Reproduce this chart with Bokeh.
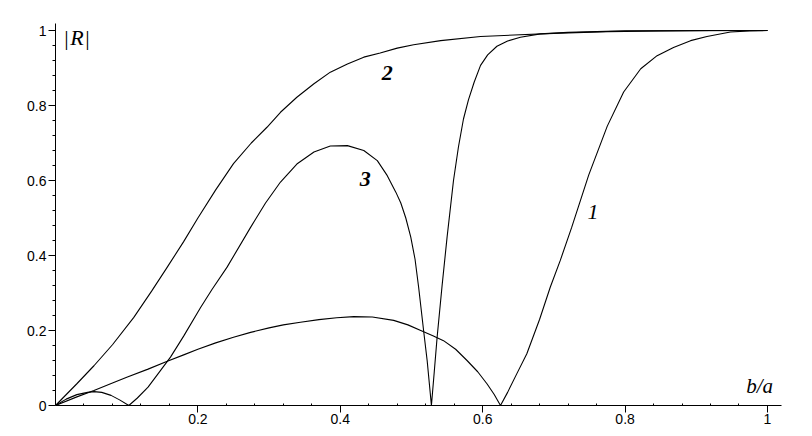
from bokeh.plotting import figure
from bokeh.models import Range1d, FixedTicker, PrintfTickFormatter, Label
from bokeh.embed import file_html
from bokeh.resources import INLINE

# curve 1
x1 = [0, 0.03, 0.054, 0.08, 0.101, 0.13, 0.157, 0.18, 0.2, 0.225, 0.25, 0.274, 0.3, 0.32, 0.344,
      0.37, 0.395, 0.419, 0.445, 0.475, 0.495, 0.513, 0.53, 0.545, 0.562, 0.578, 0.593, 0.606,
      0.616, 0.625, 0.635, 0.648, 0.662, 0.68, 0.695, 0.709, 0.725, 0.749, 0.775, 0.798, 0.822,
      0.845, 0.868, 0.892, 0.915, 0.948, 0.975, 1.0]
y1 = [0, 0.023, 0.04, 0.06, 0.076, 0.097, 0.118, 0.135, 0.15, 0.167, 0.182, 0.195, 0.207, 0.215, 0.222,
      0.229, 0.234, 0.237, 0.236, 0.227, 0.215, 0.2, 0.186, 0.173, 0.15, 0.12, 0.09, 0.058,
      0.03, 0.0, 0.035, 0.085, 0.138, 0.23, 0.316, 0.387, 0.475, 0.615, 0.745, 0.836, 0.898,
      0.933, 0.955, 0.973, 0.984, 0.996, 0.999, 1.0]

# curve 2
x2 = [0, 0.03, 0.054, 0.08, 0.11, 0.135, 0.157, 0.18, 0.2, 0.225, 0.25, 0.275, 0.297, 0.316, 0.339,
      0.363, 0.386, 0.41, 0.433, 0.456, 0.48, 0.503, 0.541, 0.597, 0.644, 0.709, 0.775, 0.85,
      0.92, 1.0]
y2 = [0, 0.058, 0.106, 0.162, 0.235, 0.305, 0.369, 0.437, 0.5, 0.575, 0.645, 0.70, 0.742, 0.782, 0.822,
      0.858, 0.889, 0.911, 0.929, 0.94, 0.953, 0.962, 0.973, 0.984, 0.988, 0.993, 0.997, 0.999,
      1.0, 1.0]

# curve 3
x3 = [0, 0.015, 0.03, 0.045, 0.054, 0.065, 0.078, 0.09, 0.103, 0.115, 0.13, 0.145, 0.1615, 0.18,
      0.204, 0.22, 0.241, 0.274, 0.295, 0.316, 0.339, 0.363, 0.386, 0.41, 0.433, 0.452, 0.466,
      0.478, 0.485, 0.492, 0.499, 0.505, 0.51, 0.517, 0.522, 0.528, 0.532, 0.536, 0.543, 0.55,
      0.559, 0.566, 0.573, 0.58, 0.588, 0.597, 0.607, 0.62, 0.635, 0.653, 0.681, 0.72, 0.8, 1.0]
y3 = [0, 0.017, 0.029, 0.035, 0.037, 0.035, 0.027, 0.015, 0.0, 0.02, 0.049, 0.087, 0.129, 0.185,
      0.262, 0.31, 0.369, 0.475, 0.54, 0.596, 0.644, 0.676, 0.692, 0.693, 0.68, 0.653, 0.613,
      0.569, 0.54, 0.50, 0.449, 0.39, 0.316, 0.2, 0.12, 0.0, 0.09, 0.182, 0.32, 0.449,
      0.6, 0.69, 0.764, 0.815, 0.862, 0.907, 0.935, 0.958, 0.972, 0.982, 0.991, 0.995, 0.999, 1.0]

x_ticks = [0.2, 0.4, 0.6, 0.8, 1.0]
y_ticks = [0, 0.2, 0.4, 0.6, 0.8, 1.0]
minor = [0.04, 0.08, 0.12, 0.16, 0.24, 0.28, 0.32, 0.36, 0.44, 0.48, 0.52, 0.56,
         0.64, 0.68, 0.72, 0.76, 0.84, 0.88, 0.92, 0.96]

p = figure(width=812, height=436, output_backend="svg", toolbar_location=None,
           x_range=Range1d(0, 1.0197), y_range=Range1d(0, 1.0187),
           min_border_left=55, min_border_top=23, min_border_right=31, min_border_bottom=31,
           background_fill_color="white", border_fill_color="white")
p.outline_line_color = None
p.grid.visible = False

for xs, ys in ((x1, y1), (x2, y2), (x3, y3)):
    p.line(xs, ys, line_color="black", line_width=1.1)

tick_font = "Liberation Sans"
p.xaxis.ticker = FixedTicker(ticks=x_ticks, minor_ticks=minor)
p.yaxis.ticker = FixedTicker(ticks=y_ticks, minor_ticks=minor)
for ax in (p.xaxis[0], p.yaxis[0]):
    ax.formatter = PrintfTickFormatter(format="%g")
    ax.axis_line_color = "black"
    ax.major_tick_line_color = "black"
    ax.minor_tick_line_color = "black"
    ax.major_label_text_font = tick_font
    ax.major_label_text_font_size = "14px"
    ax.major_label_text_color = "black"
    ax.major_tick_in = 0
    ax.major_tick_out = 7

p.xaxis.minor_tick_in = 2
p.xaxis.minor_tick_out = 0
p.xaxis.major_label_standoff = 1
p.yaxis.minor_tick_in = 0
p.yaxis.minor_tick_out = 3
p.yaxis.major_label_standoff = 2

serif = "Liberation Serif"


def add_label(x, y, text, style, size):
    p.add_layout(Label(x=x, y=y, text=text, text_font=serif, text_font_style=style,
                       text_font_size=size, text_color="black",
                       text_align="center", text_baseline="middle"))


add_label(0.0154, 0.981, "|", "normal", "22px")
add_label(0.0302, 0.981, "R", "italic", "22px")
add_label(0.0449, 0.981, "|", "normal", "22px")
add_label(0.989, 0.053, "b/a", "italic", "21px")
add_label(0.466, 0.888, "2", "bold italic", "22px")
add_label(0.435, 0.604, "3", "bold italic", "22px")
add_label(0.755, 0.516, "1", "italic", "22px")

open("out.html", "w").write(file_html(p, INLINE))
